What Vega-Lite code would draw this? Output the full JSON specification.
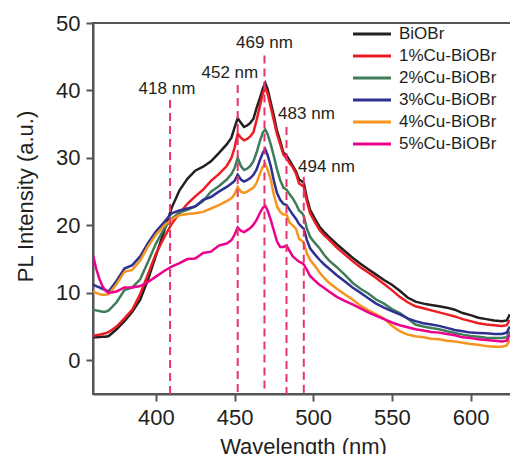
{
  "$schema": "https://vega.github.io/schema/vega-lite/v6.json",
  "width": 420,
  "height": 371,
  "autosize": {"type": "none"},
  "padding": {"left": 93, "top": 23, "right": 0, "bottom": 60},
  "background": "white",
  "config": {
    "view": {"stroke": "#555555", "strokeWidth": 2},
    "font": "Liberation Sans",
    "axis": {
      "domainColor": "#555555", "domainWidth": 2, "tickColor": "#555555", "tickWidth": 2, "tickSize": 7,
      "labelFont": "Liberation Sans", "labelFontSize": 22, "labelColor": "#231f20", "labelPadding": 6,
      "titleFont": "Liberation Sans", "titleFontSize": 22, "titleColor": "#231f20", "titleFontWeight": "normal",
      "grid": false
    }
  },
  "datasets": {
    "spectra": [
      {"x": 360, "BiOBr": 3.4, "1%Cu-BiOBr": 3.6, "2%Cu-BiOBr": 7.5, "3%Cu-BiOBr": 11.2, "4%Cu-BiOBr": 10.2, "5%Cu-BiOBr": 15.6},
      {"x": 362, "BiOBr": 3.4, "1%Cu-BiOBr": 3.7, "2%Cu-BiOBr": 7.4, "3%Cu-BiOBr": 11.0, "4%Cu-BiOBr": 10.0, "5%Cu-BiOBr": 13.6},
      {"x": 364, "BiOBr": 3.45, "1%Cu-BiOBr": 3.8, "2%Cu-BiOBr": 7.3, "3%Cu-BiOBr": 10.8, "4%Cu-BiOBr": 9.8, "5%Cu-BiOBr": 12.1},
      {"x": 366, "BiOBr": 3.5, "1%Cu-BiOBr": 3.9, "2%Cu-BiOBr": 7.2, "3%Cu-BiOBr": 10.6, "4%Cu-BiOBr": 9.7, "5%Cu-BiOBr": 11.0},
      {"x": 368, "BiOBr": 3.5, "1%Cu-BiOBr": 4.0, "2%Cu-BiOBr": 7.2, "3%Cu-BiOBr": 10.4, "4%Cu-BiOBr": 9.7, "5%Cu-BiOBr": 10.3},
      {"x": 370, "BiOBr": 3.6, "1%Cu-BiOBr": 4.2, "2%Cu-BiOBr": 7.4, "3%Cu-BiOBr": 10.2, "4%Cu-BiOBr": 9.8, "5%Cu-BiOBr": 10.0},
      {"x": 375, "BiOBr": 4.6, "1%Cu-BiOBr": 5.0, "2%Cu-BiOBr": 8.6, "3%Cu-BiOBr": 11.8, "4%Cu-BiOBr": 11.3, "5%Cu-BiOBr": 10.2},
      {"x": 380, "BiOBr": 5.8, "1%Cu-BiOBr": 6.2, "2%Cu-BiOBr": 10.4, "3%Cu-BiOBr": 13.6, "4%Cu-BiOBr": 13.1, "5%Cu-BiOBr": 10.8},
      {"x": 385, "BiOBr": 7.2, "1%Cu-BiOBr": 7.5, "2%Cu-BiOBr": 10.8, "3%Cu-BiOBr": 14.1, "4%Cu-BiOBr": 13.4, "5%Cu-BiOBr": 10.8},
      {"x": 390, "BiOBr": 9.0, "1%Cu-BiOBr": 9.8, "2%Cu-BiOBr": 12.0, "3%Cu-BiOBr": 15.4, "4%Cu-BiOBr": 14.8, "5%Cu-BiOBr": 11.0},
      {"x": 395, "BiOBr": 12.0, "1%Cu-BiOBr": 12.8, "2%Cu-BiOBr": 14.6, "3%Cu-BiOBr": 17.4, "4%Cu-BiOBr": 16.9, "5%Cu-BiOBr": 11.6},
      {"x": 400, "BiOBr": 15.5, "1%Cu-BiOBr": 15.8, "2%Cu-BiOBr": 17.3, "3%Cu-BiOBr": 19.1, "4%Cu-BiOBr": 18.6, "5%Cu-BiOBr": 12.4},
      {"x": 405, "BiOBr": 19.0, "1%Cu-BiOBr": 18.1, "2%Cu-BiOBr": 19.4, "3%Cu-BiOBr": 20.4, "4%Cu-BiOBr": 19.9, "5%Cu-BiOBr": 13.2},
      {"x": 410, "BiOBr": 22.6, "1%Cu-BiOBr": 20.2, "2%Cu-BiOBr": 21.0, "3%Cu-BiOBr": 21.8, "4%Cu-BiOBr": 20.9, "5%Cu-BiOBr": 13.9},
      {"x": 415, "BiOBr": 25.2, "1%Cu-BiOBr": 21.8, "2%Cu-BiOBr": 21.9, "3%Cu-BiOBr": 22.2, "4%Cu-BiOBr": 21.5, "5%Cu-BiOBr": 14.4},
      {"x": 420, "BiOBr": 26.9, "1%Cu-BiOBr": 23.2, "2%Cu-BiOBr": 22.3, "3%Cu-BiOBr": 22.5, "4%Cu-BiOBr": 21.7, "5%Cu-BiOBr": 15.0},
      {"x": 425, "BiOBr": 28.1, "1%Cu-BiOBr": 24.3, "2%Cu-BiOBr": 22.8, "3%Cu-BiOBr": 22.8, "4%Cu-BiOBr": 21.8, "5%Cu-BiOBr": 15.1},
      {"x": 430, "BiOBr": 28.7, "1%Cu-BiOBr": 25.3, "2%Cu-BiOBr": 23.6, "3%Cu-BiOBr": 23.8, "4%Cu-BiOBr": 22.0, "5%Cu-BiOBr": 15.9},
      {"x": 435, "BiOBr": 29.5, "1%Cu-BiOBr": 26.6, "2%Cu-BiOBr": 25.0, "3%Cu-BiOBr": 24.2, "4%Cu-BiOBr": 22.5, "5%Cu-BiOBr": 16.1},
      {"x": 440, "BiOBr": 30.7, "1%Cu-BiOBr": 27.6, "2%Cu-BiOBr": 25.8, "3%Cu-BiOBr": 25.0, "4%Cu-BiOBr": 23.0, "5%Cu-BiOBr": 17.0},
      {"x": 445, "BiOBr": 32.0, "1%Cu-BiOBr": 28.8, "2%Cu-BiOBr": 26.8, "3%Cu-BiOBr": 25.7, "4%Cu-BiOBr": 23.6, "5%Cu-BiOBr": 17.3},
      {"x": 448, "BiOBr": 33.0, "1%Cu-BiOBr": 30.0, "2%Cu-BiOBr": 27.6, "3%Cu-BiOBr": 26.2, "4%Cu-BiOBr": 24.0, "5%Cu-BiOBr": 17.8},
      {"x": 450, "BiOBr": 34.5, "1%Cu-BiOBr": 31.5, "2%Cu-BiOBr": 28.5, "3%Cu-BiOBr": 26.6, "4%Cu-BiOBr": 24.6, "5%Cu-BiOBr": 18.6},
      {"x": 452, "BiOBr": 35.9, "1%Cu-BiOBr": 33.6, "2%Cu-BiOBr": 30.0, "3%Cu-BiOBr": 27.5, "4%Cu-BiOBr": 25.7, "5%Cu-BiOBr": 19.7},
      {"x": 454, "BiOBr": 35.2, "1%Cu-BiOBr": 33.0, "2%Cu-BiOBr": 28.8, "3%Cu-BiOBr": 26.8, "4%Cu-BiOBr": 25.0, "5%Cu-BiOBr": 19.2},
      {"x": 456, "BiOBr": 34.6, "1%Cu-BiOBr": 32.6, "2%Cu-BiOBr": 28.2, "3%Cu-BiOBr": 26.5, "4%Cu-BiOBr": 24.8, "5%Cu-BiOBr": 19.0},
      {"x": 458, "BiOBr": 34.8, "1%Cu-BiOBr": 32.8, "2%Cu-BiOBr": 28.4, "3%Cu-BiOBr": 26.7, "4%Cu-BiOBr": 25.0, "5%Cu-BiOBr": 19.3},
      {"x": 460, "BiOBr": 35.2, "1%Cu-BiOBr": 33.2, "2%Cu-BiOBr": 28.8, "3%Cu-BiOBr": 27.0, "4%Cu-BiOBr": 25.3, "5%Cu-BiOBr": 19.6},
      {"x": 462, "BiOBr": 35.8, "1%Cu-BiOBr": 33.8, "2%Cu-BiOBr": 29.5, "3%Cu-BiOBr": 27.5, "4%Cu-BiOBr": 25.6, "5%Cu-BiOBr": 20.1},
      {"x": 464, "BiOBr": 37.4, "1%Cu-BiOBr": 35.6, "2%Cu-BiOBr": 30.8, "3%Cu-BiOBr": 28.3, "4%Cu-BiOBr": 26.3, "5%Cu-BiOBr": 20.8},
      {"x": 466, "BiOBr": 38.8, "1%Cu-BiOBr": 37.6, "2%Cu-BiOBr": 32.4, "3%Cu-BiOBr": 29.6, "4%Cu-BiOBr": 27.6, "5%Cu-BiOBr": 21.8},
      {"x": 468, "BiOBr": 40.3, "1%Cu-BiOBr": 39.6, "2%Cu-BiOBr": 33.8, "3%Cu-BiOBr": 30.8, "4%Cu-BiOBr": 28.7, "5%Cu-BiOBr": 22.6},
      {"x": 469.5, "BiOBr": 41.1, "1%Cu-BiOBr": 40.4, "2%Cu-BiOBr": 34.2, "3%Cu-BiOBr": 31.3, "4%Cu-BiOBr": 29.1, "5%Cu-BiOBr": 22.9},
      {"x": 471, "BiOBr": 40.2, "1%Cu-BiOBr": 39.5, "2%Cu-BiOBr": 33.5, "3%Cu-BiOBr": 30.4, "4%Cu-BiOBr": 28.3, "5%Cu-BiOBr": 22.2},
      {"x": 473, "BiOBr": 38.2, "1%Cu-BiOBr": 37.5, "2%Cu-BiOBr": 32.0, "3%Cu-BiOBr": 28.8, "4%Cu-BiOBr": 26.8, "5%Cu-BiOBr": 20.8},
      {"x": 475, "BiOBr": 36.2, "1%Cu-BiOBr": 35.5, "2%Cu-BiOBr": 30.2, "3%Cu-BiOBr": 26.6, "4%Cu-BiOBr": 24.5, "5%Cu-BiOBr": 19.2},
      {"x": 477, "BiOBr": 34.0, "1%Cu-BiOBr": 33.5, "2%Cu-BiOBr": 28.3, "3%Cu-BiOBr": 24.8, "4%Cu-BiOBr": 22.8, "5%Cu-BiOBr": 17.6},
      {"x": 479, "BiOBr": 32.5, "1%Cu-BiOBr": 32.0, "2%Cu-BiOBr": 26.7, "3%Cu-BiOBr": 23.8, "4%Cu-BiOBr": 22.0, "5%Cu-BiOBr": 16.8},
      {"x": 481, "BiOBr": 30.8, "1%Cu-BiOBr": 30.5, "2%Cu-BiOBr": 25.6, "3%Cu-BiOBr": 23.2, "4%Cu-BiOBr": 21.6, "5%Cu-BiOBr": 16.8},
      {"x": 483, "BiOBr": 30.4, "1%Cu-BiOBr": 29.9, "2%Cu-BiOBr": 25.3, "3%Cu-BiOBr": 23.0, "4%Cu-BiOBr": 21.6, "5%Cu-BiOBr": 17.0},
      {"x": 485, "BiOBr": 29.6, "1%Cu-BiOBr": 29.2, "2%Cu-BiOBr": 24.6, "3%Cu-BiOBr": 22.3, "4%Cu-BiOBr": 20.4, "5%Cu-BiOBr": 16.2},
      {"x": 487, "BiOBr": 28.8, "1%Cu-BiOBr": 28.6, "2%Cu-BiOBr": 24.0, "3%Cu-BiOBr": 21.6, "4%Cu-BiOBr": 20.0, "5%Cu-BiOBr": 15.4},
      {"x": 489, "BiOBr": 28.0, "1%Cu-BiOBr": 27.7, "2%Cu-BiOBr": 23.2, "3%Cu-BiOBr": 21.0, "4%Cu-BiOBr": 19.5, "5%Cu-BiOBr": 15.0},
      {"x": 491, "BiOBr": 26.8, "1%Cu-BiOBr": 26.2, "2%Cu-BiOBr": 22.2, "3%Cu-BiOBr": 20.2, "4%Cu-BiOBr": 18.0, "5%Cu-BiOBr": 14.6},
      {"x": 493, "BiOBr": 26.5, "1%Cu-BiOBr": 25.9, "2%Cu-BiOBr": 21.8, "3%Cu-BiOBr": 19.7, "4%Cu-BiOBr": 17.7, "5%Cu-BiOBr": 14.4},
      {"x": 494, "BiOBr": 26.3, "1%Cu-BiOBr": 25.7, "2%Cu-BiOBr": 21.4, "3%Cu-BiOBr": 19.5, "4%Cu-BiOBr": 17.4, "5%Cu-BiOBr": 14.2},
      {"x": 496, "BiOBr": 24.0, "1%Cu-BiOBr": 23.5, "2%Cu-BiOBr": 19.5, "3%Cu-BiOBr": 17.8, "4%Cu-BiOBr": 15.8, "5%Cu-BiOBr": 13.4},
      {"x": 498, "BiOBr": 22.3, "1%Cu-BiOBr": 21.8, "2%Cu-BiOBr": 18.3, "3%Cu-BiOBr": 16.6, "4%Cu-BiOBr": 14.9, "5%Cu-BiOBr": 12.5},
      {"x": 501, "BiOBr": 21.0, "1%Cu-BiOBr": 20.5, "2%Cu-BiOBr": 17.4, "3%Cu-BiOBr": 15.7, "4%Cu-BiOBr": 14.0, "5%Cu-BiOBr": 11.8},
      {"x": 504, "BiOBr": 19.8, "1%Cu-BiOBr": 19.3, "2%Cu-BiOBr": 16.6, "3%Cu-BiOBr": 14.9, "4%Cu-BiOBr": 13.0, "5%Cu-BiOBr": 11.2},
      {"x": 507, "BiOBr": 19.0, "1%Cu-BiOBr": 18.5, "2%Cu-BiOBr": 15.6, "3%Cu-BiOBr": 14.2, "4%Cu-BiOBr": 12.2, "5%Cu-BiOBr": 10.7},
      {"x": 510, "BiOBr": 18.3, "1%Cu-BiOBr": 17.9, "2%Cu-BiOBr": 14.8, "3%Cu-BiOBr": 13.6, "4%Cu-BiOBr": 11.5, "5%Cu-BiOBr": 10.2},
      {"x": 515, "BiOBr": 17.2, "1%Cu-BiOBr": 16.7, "2%Cu-BiOBr": 13.8, "3%Cu-BiOBr": 12.6, "4%Cu-BiOBr": 10.6, "5%Cu-BiOBr": 9.4},
      {"x": 520, "BiOBr": 16.2, "1%Cu-BiOBr": 15.7, "2%Cu-BiOBr": 12.7, "3%Cu-BiOBr": 11.7, "4%Cu-BiOBr": 9.8, "5%Cu-BiOBr": 8.8},
      {"x": 525, "BiOBr": 15.2, "1%Cu-BiOBr": 14.7, "2%Cu-BiOBr": 11.5, "3%Cu-BiOBr": 10.8, "4%Cu-BiOBr": 9.0, "5%Cu-BiOBr": 8.3},
      {"x": 530, "BiOBr": 14.3, "1%Cu-BiOBr": 13.8, "2%Cu-BiOBr": 10.6, "3%Cu-BiOBr": 10.0, "4%Cu-BiOBr": 8.1, "5%Cu-BiOBr": 7.7},
      {"x": 535, "BiOBr": 13.5, "1%Cu-BiOBr": 13.0, "2%Cu-BiOBr": 9.9, "3%Cu-BiOBr": 9.2, "4%Cu-BiOBr": 7.4, "5%Cu-BiOBr": 7.1},
      {"x": 540, "BiOBr": 12.7, "1%Cu-BiOBr": 12.2, "2%Cu-BiOBr": 9.0, "3%Cu-BiOBr": 8.4, "4%Cu-BiOBr": 6.8, "5%Cu-BiOBr": 6.6},
      {"x": 545, "BiOBr": 11.9, "1%Cu-BiOBr": 11.3, "2%Cu-BiOBr": 8.4, "3%Cu-BiOBr": 7.8, "4%Cu-BiOBr": 6.2, "5%Cu-BiOBr": 6.1},
      {"x": 550, "BiOBr": 11.2, "1%Cu-BiOBr": 10.4, "2%Cu-BiOBr": 7.6, "3%Cu-BiOBr": 7.3, "4%Cu-BiOBr": 5.1, "5%Cu-BiOBr": 5.6},
      {"x": 555, "BiOBr": 10.3, "1%Cu-BiOBr": 9.4, "2%Cu-BiOBr": 7.0, "3%Cu-BiOBr": 6.8, "4%Cu-BiOBr": 4.3, "5%Cu-BiOBr": 5.2},
      {"x": 560, "BiOBr": 9.3, "1%Cu-BiOBr": 8.6, "2%Cu-BiOBr": 6.2, "3%Cu-BiOBr": 6.2, "4%Cu-BiOBr": 3.8, "5%Cu-BiOBr": 4.9},
      {"x": 565, "BiOBr": 8.7, "1%Cu-BiOBr": 8.0, "2%Cu-BiOBr": 5.3, "3%Cu-BiOBr": 5.8, "4%Cu-BiOBr": 3.55, "5%Cu-BiOBr": 4.6},
      {"x": 570, "BiOBr": 8.4, "1%Cu-BiOBr": 7.7, "2%Cu-BiOBr": 5.0, "3%Cu-BiOBr": 5.5, "4%Cu-BiOBr": 3.4, "5%Cu-BiOBr": 4.4},
      {"x": 575, "BiOBr": 8.2, "1%Cu-BiOBr": 7.4, "2%Cu-BiOBr": 4.8, "3%Cu-BiOBr": 5.3, "4%Cu-BiOBr": 3.2, "5%Cu-BiOBr": 4.2},
      {"x": 580, "BiOBr": 8.0, "1%Cu-BiOBr": 7.1, "2%Cu-BiOBr": 4.6, "3%Cu-BiOBr": 5.1, "4%Cu-BiOBr": 3.1, "5%Cu-BiOBr": 4.1},
      {"x": 585, "BiOBr": 7.8, "1%Cu-BiOBr": 6.8, "2%Cu-BiOBr": 4.3, "3%Cu-BiOBr": 4.8, "4%Cu-BiOBr": 2.9, "5%Cu-BiOBr": 3.9},
      {"x": 590, "BiOBr": 7.5, "1%Cu-BiOBr": 6.5, "2%Cu-BiOBr": 4.05, "3%Cu-BiOBr": 4.5, "4%Cu-BiOBr": 2.8, "5%Cu-BiOBr": 3.7},
      {"x": 595, "BiOBr": 7.0, "1%Cu-BiOBr": 6.1, "2%Cu-BiOBr": 3.8, "3%Cu-BiOBr": 4.3, "4%Cu-BiOBr": 2.6, "5%Cu-BiOBr": 3.4},
      {"x": 600, "BiOBr": 6.7, "1%Cu-BiOBr": 5.8, "2%Cu-BiOBr": 3.6, "3%Cu-BiOBr": 4.1, "4%Cu-BiOBr": 2.4, "5%Cu-BiOBr": 3.3},
      {"x": 605, "BiOBr": 6.3, "1%Cu-BiOBr": 5.5, "2%Cu-BiOBr": 3.5, "3%Cu-BiOBr": 4.05, "4%Cu-BiOBr": 2.3, "5%Cu-BiOBr": 3.1},
      {"x": 610, "BiOBr": 6.1, "1%Cu-BiOBr": 5.3, "2%Cu-BiOBr": 3.35, "3%Cu-BiOBr": 4.0, "4%Cu-BiOBr": 2.1, "5%Cu-BiOBr": 3.0},
      {"x": 615, "BiOBr": 5.9, "1%Cu-BiOBr": 5.2, "2%Cu-BiOBr": 3.3, "3%Cu-BiOBr": 3.9, "4%Cu-BiOBr": 2.0, "5%Cu-BiOBr": 2.9},
      {"x": 620, "BiOBr": 5.8, "1%Cu-BiOBr": 5.1, "2%Cu-BiOBr": 3.3, "3%Cu-BiOBr": 3.9, "4%Cu-BiOBr": 2.0, "5%Cu-BiOBr": 2.8},
      {"x": 623, "BiOBr": 5.9, "1%Cu-BiOBr": 5.2, "2%Cu-BiOBr": 3.4, "3%Cu-BiOBr": 4.1, "4%Cu-BiOBr": 2.2, "5%Cu-BiOBr": 2.9},
      {"x": 625, "BiOBr": 6.8, "1%Cu-BiOBr": 6.0, "2%Cu-BiOBr": 4.3, "3%Cu-BiOBr": 5.0, "4%Cu-BiOBr": 3.1, "5%Cu-BiOBr": 3.8}
    ],
    "peaks": [
      {"nm": 409, "top": 38.6, "lx": 407, "ly": 40.2, "label": "418 nm"},
      {"nm": 452, "top": 40.8, "lx": 447, "ly": 42.6, "label": "452 nm"},
      {"nm": 469, "top": 45.2, "lx": 469, "ly": 47.1, "label": "469 nm"},
      {"nm": 483, "top": 34.6, "lx": 495.7, "ly": 36.5, "label": "483 nm"},
      {"nm": 494, "top": 27.2, "lx": 508.4, "ly": 28.6, "label": "494 nm"}
    ]
  },
  "layer": [
    {
      "data": {"name": "spectra"},
      "transform": [
        {"fold": ["BiOBr", "1%Cu-BiOBr", "2%Cu-BiOBr", "3%Cu-BiOBr", "4%Cu-BiOBr", "5%Cu-BiOBr"], "as": ["sample", "intensity"]}
      ],
      "mark": {"type": "line", "strokeWidth": 2.5, "clip": true},
      "encoding": {
        "x": {
          "field": "x", "type": "quantitative",
          "scale": {"domain": [360, 627], "nice": false, "zero": false},
          "axis": {"values": [400, 450, 500, 550, 600], "title": "Wavelength (nm)", "titlePadding": 8}
        },
        "y": {
          "field": "intensity", "type": "quantitative",
          "scale": {"domain": [-5, 50], "nice": false, "zero": false},
          "axis": {"values": [0, 10, 20, 30, 40, 50], "title": "PL Intensity (a.u.)", "titleX": -61, "titleY": 173, "titleBaseline": "alphabetic", "titleAlign": "center", "titleAngle": -90}
        },
        "color": {
          "field": "sample", "type": "nominal",
          "scale": {
            "domain": ["BiOBr", "1%Cu-BiOBr", "2%Cu-BiOBr", "3%Cu-BiOBr", "4%Cu-BiOBr", "5%Cu-BiOBr"],
            "range": ["#231f20", "#ed1c24", "#3f7d5a", "#2e3192", "#f7941d", "#ec008c"]
          },
          "legend": {
            "orient": "none", "legendX": 268, "legendY": 0, "title": null,
            "symbolType": "M-2,0H2", "symbolSize": 361, "symbolStrokeWidth": 3,
            "labelFont": "Liberation Sans", "labelFontSize": 17, "labelColor": "#231f20",
            "labelOffset": 16, "rowPadding": 3, "padding": 0
          }
        }
      }
    },
    {
      "data": {"name": "peaks"},
      "mark": {"type": "rule", "strokeDash": [8, 5], "strokeWidth": 2, "color": "#e8336e"},
      "encoding": {
        "x": {"field": "nm", "type": "quantitative"},
        "y": {"field": "top", "type": "quantitative"},
        "y2": {"datum": -5}
      }
    },
    {
      "data": {"name": "peaks"},
      "mark": {"type": "text", "font": "Liberation Sans", "fontSize": 17, "color": "#231f20", "baseline": "middle", "align": "center"},
      "encoding": {
        "x": {"field": "lx", "type": "quantitative"},
        "y": {"field": "ly", "type": "quantitative"},
        "text": {"field": "label"}
      }
    }
  ]
}
